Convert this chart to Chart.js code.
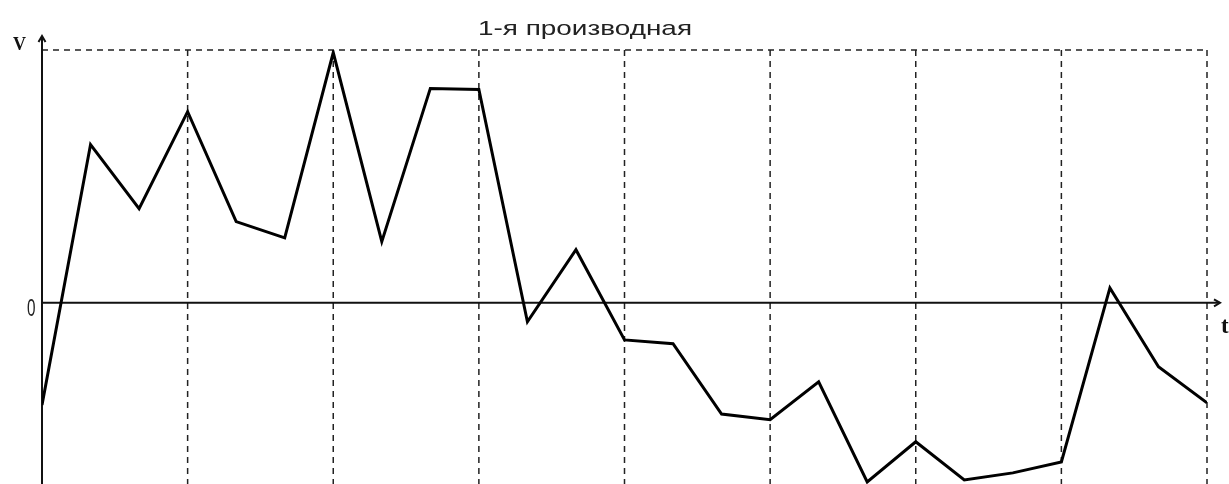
<!DOCTYPE html>
<html>
<head>
<meta charset="utf-8">
<script src="https://cdn.jsdelivr.net/npm/chart.js@4/dist/chart.umd.min.js"></script>
<style>
  html, body { margin: 0; padding: 0; background: #fff; }
  #wrap { width: 1229px; height: 484px; }
</style>
</head>
<body>
<div id="wrap"><canvas id="myChart"></canvas></div>
<script>
// DATA

var title = '1-я производная';
var axisY = 'V';
var axisX = 't';
var zeroLabel = '0';
var steps = [0, 1, 2, 3, 4, 5, 6, 7, 8, 9, 10, 11, 12, 13, 14, 15, 16, 17, 18, 19, 20, 21, 22, 23, 24];
var derivative = [-0.404, 0.626, 0.372, 0.756, 0.321, 0.257, 0.99, 0.242, 0.848, 0.844,
                  -0.075, 0.21, -0.147, -0.162, -0.44, -0.463, -0.313, -0.709, -0.55, -0.701,
                  -0.673, -0.63, 0.059, -0.253, -0.396];
var gridSteps = [3, 6, 9, 12, 15, 18, 21, 24];

var points = steps.map(function (s, i) { return { x: s, y: derivative[i] }; });

// text squeezed / stretched to a given width
function fitText(ctx, text, x, y, width) {
    var w = ctx.measureText(text).width;
    ctx.save();
    ctx.translate(x, y);
    ctx.scale(width / w, 1);
    ctx.fillText(text, 0, 0);
    ctx.restore();
}

// AXES + GRID

var axesPlugin = {
    id: 'axes',
    beforeDatasetsDraw: function (chart) {
        var ctx = chart.ctx;
        var xs = chart.scales.x;
        var ys = chart.scales.y;
        var x0 = xs.getPixelForValue(0);
        var xEnd = xs.getPixelForValue(24);
        var yTop = ys.getPixelForValue(1);
        var yZero = ys.getPixelForValue(0);
        var bottom = chart.height;

        ctx.save();
        // dashed grid
        ctx.strokeStyle = '#222';
        ctx.lineWidth = 1.5;
        ctx.setLineDash([6, 5]);
        ctx.beginPath();
        ctx.moveTo(x0, yTop);
        ctx.lineTo(xEnd, yTop);
        gridSteps.forEach(function (s) {
            var gx = xs.getPixelForValue(s);
            ctx.moveTo(gx, yTop);
            ctx.lineTo(gx, bottom);
        });
        ctx.stroke();

        // solid axes
        ctx.setLineDash([]);
        ctx.strokeStyle = '#111';
        ctx.lineWidth = 2;
        ctx.beginPath();
        ctx.moveTo(x0, bottom);
        ctx.lineTo(x0, yTop - 14);
        ctx.moveTo(x0, yZero);
        ctx.lineTo(xEnd + 13, yZero);
        ctx.stroke();

        // arrows
        ctx.lineWidth = 2;
        ctx.beginPath();
        ctx.moveTo(x0 - 3.5, yTop - 8);
        ctx.lineTo(x0, yTop - 14);
        ctx.lineTo(x0 + 3.5, yTop - 8);
        ctx.moveTo(xEnd + 7, yZero - 3.5);
        ctx.lineTo(xEnd + 13, yZero);
        ctx.lineTo(xEnd + 7, yZero + 3.5);
        ctx.stroke();

        // labels
        ctx.fillStyle = '#222';
        ctx.textAlign = 'left';
        ctx.textBaseline = 'alphabetic';
        ctx.font = '21px "Liberation Sans", sans-serif';
        fitText(ctx, title, 478, 35, 214);

        ctx.font = '23px "Liberation Sans", sans-serif';
        fitText(ctx, zeroLabel, 27, 316, 8.5);

        ctx.fillStyle = '#111';
        ctx.font = 'bold 19px "Liberation Serif", serif';
        fitText(ctx, axisY, 13, 50, 13);
        ctx.font = 'bold 23px "Liberation Serif", serif';
        ctx.fillText(axisX, 1221, 333);
        ctx.restore();
    }
};

var canvas = document.getElementById('myChart');
var chart = new Chart(canvas.getContext('2d'), {
    type: 'line',
    data: {
        datasets: [{
            label: title,
            data: points,
            borderColor: '#000',
            borderWidth: 3,
            pointRadius: 0,
            tension: 0,
            fill: false
        }]
    },
    options: {
        responsive: true,
        maintainAspectRatio: false,
        animation: false,
        layout: { padding: { left: 42, right: 22, top: 50, bottom: 0 } },
        plugins: {
            legend: { display: false },
            tooltip: { enabled: false },
            title: { display: false }
        },
        scales: {
            x: { type: 'linear', min: 0, max: 24, display: false },
            y: { type: 'linear', min: -0.717, max: 1, display: false }
        }
    },
    plugins: [axesPlugin]
});
</script>
</body>
</html>
